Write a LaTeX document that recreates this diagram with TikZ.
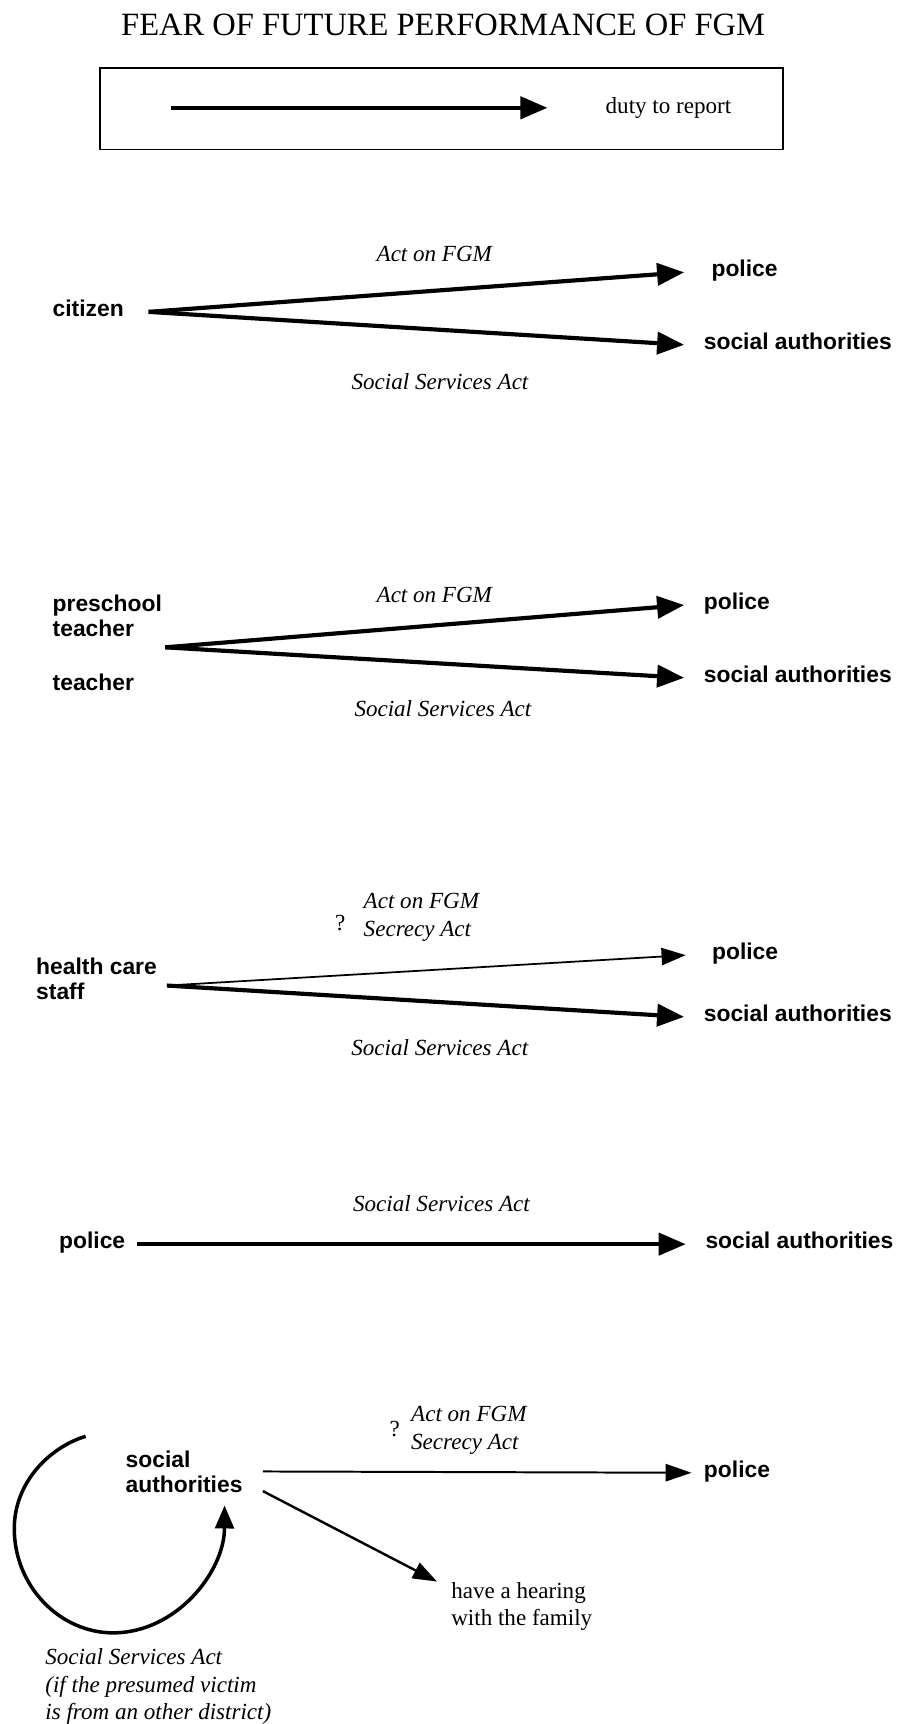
\documentclass[tikz,border=0pt]{standalone}
\usepackage{fontspec}
\setmainfont{Liberation Serif}
\setsansfont{Liberation Sans}
\usetikzlibrary{arrows.meta}
\tikzset{every picture/.style={line width=0.75pt}}
\tikzset{
  party/.style={font=\sffamily\bfseries\fontsize{10.4pt}{11.3pt}\selectfont, inner sep=0pt, outer xsep=9pt, text height=6pt, text depth=2pt},
  group/.style={font=\sffamily\bfseries\fontsize{10.4pt}{11.3pt}\selectfont, inner sep=0pt, outer sep=0pt, align=left},
  law/.style={font=\itshape\fontsize{10.5pt}{12.9pt}\selectfont, inner sep=0pt, align=left},
  plain/.style={font=\fontsize{10.5pt}{12.2pt}\selectfont, inner sep=0pt, align=left},
  duty/.style={line width=1.9pt, -{Triangle[length=12.3pt,width=10pt]}},
  weak/.style={line width=0.8pt, -{Triangle[length=11pt,width=7.8pt]}},
}

\begin{document}
\begin{tikzpicture}[x=0.5pt,y=0.5pt,yscale=-1,xscale=1]
\useasboundingbox (0,0) rectangle (818,1570);

% Text Node
\node[font=\fontsize{14.8pt}{17pt}\selectfont, inner sep=0pt, anchor=base] (title) at (403.6,31.9) {FEAR OF FUTURE PERFORMANCE OF FGM};

%Shape: Rectangle
\draw (91,62) rectangle (713,136);
% Text Node
\node[plain, outer xsep=26.5pt, anchor=base west] (key) at (498.6,103.2) {duty to report};
\coordinate (key-tail) at (156,98.5);
%Straight Lines
\draw[duty] (key-tail |- key.west) -- (key.west);

%% citizen
\node[party, anchor=east, outer xsep=11.3pt] (citizen) at (135.3,284) {citizen};
\node[party, anchor=west, outer xsep=12.5pt] (police1) at (623,248) {police};
\node[party, anchor=west] (social1) at (623,314) {social authorities};
\draw[duty] (citizen.east) -- (police1.west);
\draw[duty] (citizen.east) -- (social1.west);
% Text Node
\node[law, anchor=base] (fgm1) at (395.5,237.7) {Act on FGM};
\node[law, anchor=base] (ssa1) at (400.7,355) {Social Services Act};

%% teachers
\node[group, anchor=base west] (preschool) at (48,579.2) {preschool\\teacher};
\node[group, anchor=base west] (teacher) at (48,629) {teacher};
\coordinate (school) at (150.5,589.5);
\node[party, anchor=west] (police2) at (623,551) {police};
\node[party, anchor=west] (social2) at (623,617.2) {social authorities};
\draw[duty] (school) -- (police2.west);
\draw[duty] (school) -- (social2.west);
% Text Node
\node[law, anchor=base] (fgm2) at (395.5,548.9) {Act on FGM};
\node[law, anchor=base] (ssa2) at (403.3,652.7) {Social Services Act};

%% health care
\node[group, anchor=base west] (health) at (33,910) {health care\\staff};
\coordinate (clinic) at (152,897.5);
\node[party, anchor=west, outer xsep=12pt] (police3) at (624.5,869.8) {police};
\node[party, anchor=west] (social3) at (623,926) {social authorities};
\draw[weak] (clinic) -- (police3.west);
\draw[duty] (clinic) -- (social3.west);
% Text Node
\node[plain, anchor=base west] (ask3) at (304.5,847) {?};
\node[law, anchor=base west] (fgm3) at (330.5,853.1) {Act on FGM\\Secrecy Act};
\node[law, anchor=base] (ssa3) at (400.5,960.9) {Social Services Act};

%% police
\node[party, anchor=east, outer xsep=5.5pt] (police4) at (125,1133) {police};
\node[party, anchor=west] (social4) at (624.5,1133) {social authorities};
\draw[duty] (police4.east) -- (social4.west);
% Text Node
\node[law, anchor=base] (ssa4) at (402,1103.5) {Social Services Act};

%% social authorities
\node[group, anchor=east, outer xsep=9.3pt, outer ysep=6pt] (social5) at (239.4,1340) {social\\authorities};
\node[party, anchor=west, outer xsep=5.7pt] (police5) at (629.7,1341.2) {police};
\node[plain, outer xsep=6.5pt, anchor=base west] (hearing) at (398,1480) {have a hearing\\with the family};
\draw[weak, line width=0.9pt, -{Triangle[length=11.8pt,width=7.9pt]}] (social5.east) -- (police5.west);
\draw[weak, line width=1.1pt] (social5.-14) -- (hearing.north west);
%Curve Lines
\coordinate (loop-start) at (78,1308);
\draw[line width=1.6pt, -{Triangle[length=10.5pt,width=8.5pt]}] (loop-start) .. controls (45,1318) and (13,1350) .. (13,1392) .. controls (13,1445) and (55,1487) .. (103,1487) .. controls (160,1487) and (204.4,1432) .. (social5.-40);
% Text Node
\node[plain, anchor=base west] (ask5) at (354,1307.8) {?};
\node[law, anchor=base west] (fgm5) at (373.7,1320) {Act on FGM\\Secrecy Act};
\node[law, font=\itshape\fontsize{10.5pt}{12.5pt}\selectfont, anchor=base west] (note) at (40.6,1565.9) {Social Services Act\\(if the presumed victim\\is from an other district)};

\end{tikzpicture}
\end{document}
